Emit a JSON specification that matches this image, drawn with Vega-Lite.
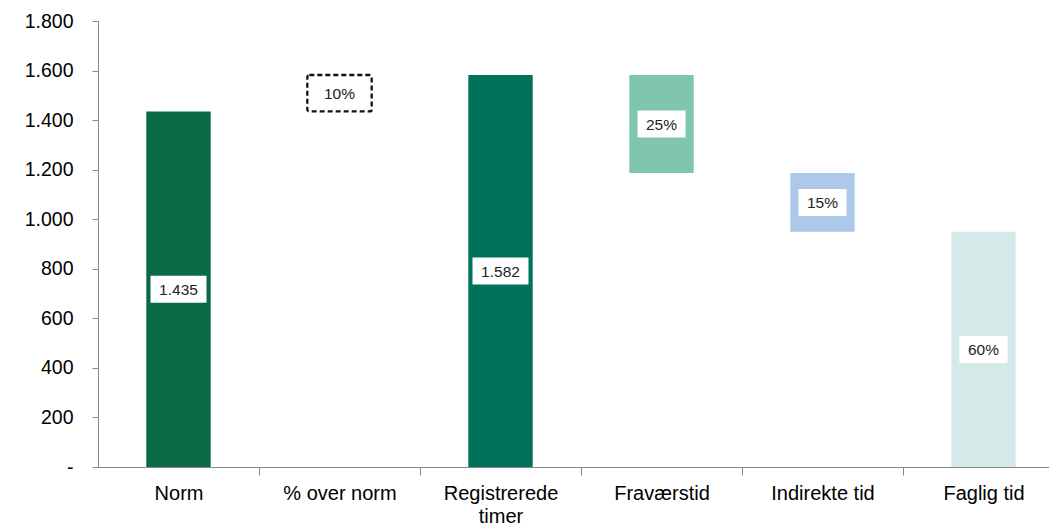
{
  "$schema": "https://vega.github.io/schema/vega-lite/v6.json",
  "autosize": {"type": "none"},
  "padding": {"left": 98, "top": 21, "right": 0, "bottom": 59},
  "width": 951,
  "height": 446,
  "background": "white",
  "config": {"view": {"stroke": null}, "font": "Liberation Sans"},
  "data": {"values": [
    {"cat": "Norm", "start": 0, "end": 1435, "label": "1.435"},
    {"cat": "% over norm", "start": 1435, "end": 1582, "label": "10%"},
    {"cat": "Registrerede timer", "start": 0, "end": 1582, "label": "1.582"},
    {"cat": "Fraværstid", "start": 1582, "end": 1186.5, "label": "25%"},
    {"cat": "Indirekte tid", "start": 1186.5, "end": 949.2, "label": "15%"},
    {"cat": "Faglig tid", "start": 949.2, "end": 0, "label": "60%"}
  ]},
  "transform": [{"calculate": "(datum.start + datum.end) / 2", "as": "mid"}],
  "encoding": {
    "x": {
      "field": "cat", "type": "nominal", "sort": null,
      "scale": {"domain": ["Norm", "% over norm", "Registrerede timer", "Fraværstid", "Indirekte tid", "Faglig tid"], "range": [0, 966], "paddingInner": 0.6, "paddingOuter": 0.3},
      "axis": {
        "title": null, "labelAngle": 0, "tickOffset": 80.5, "labelOffset": -80.5, "tickSize": 8,
        "domainColor": "#888888", "tickColor": "#888888", "labelFontSize": 20, "labelColor": "#000000",
        "labelPadding": 8, "labelLineHeight": 23, "labelBaseline": "top",
        "labelExpr": "datum.value == 'Registrerede timer' ? ['Registrerede', 'timer'] : datum.label"
      }
    }
  },
  "layer": [
    {
      "transform": [{"filter": "datum.cat != '% over norm'"}],
      "mark": {"type": "bar"},
      "encoding": {
        "y": {
          "field": "start", "type": "quantitative",
          "scale": {"domain": [0, 1800], "nice": false},
          "axis": {
            "title": null, "grid": false, "values": [0, 200, 400, 600, 800, 1000, 1200, 1400, 1600, 1800],
            "domainColor": "#888888", "tickColor": "#888888", "tickSize": 6, "labelPadding": 19,
            "labelFontSize": 19.5, "labelColor": "#000000",
            "labelExpr": "datum.value == 0 ? '-' : replace(format(datum.value, ','), ',', '.')"
          }
        },
        "y2": {"field": "end"},
        "color": {
          "field": "cat", "type": "nominal", "legend": null,
          "scale": {"domain": ["Norm", "Registrerede timer", "Fraværstid", "Indirekte tid", "Faglig tid"], "range": ["#096b45", "#00715a", "#7fc6ad", "#adc8e8", "#d4eae8"]}
        }
      }
    },
    {
      "transform": [{"filter": "datum.cat == '% over norm'"}],
      "mark": {"type": "bar", "fill": null, "fillOpacity": 0, "stroke": "#111111", "strokeWidth": 2.3, "strokeDash": [5, 3], "cornerRadius": 2},
      "encoding": {
        "y": {"field": "start", "type": "quantitative"},
        "y2": {"field": "end"}
      }
    },
    {
      "transform": [{"filter": "datum.cat != '% over norm'"}],
      "mark": {"type": "point", "filled": true, "fill": "white", "opacity": 1, "strokeWidth": 0},
      "encoding": {
        "y": {"field": "mid", "type": "quantitative"},
        "shape": {"condition": {"test": "indexof(datum.label, '%') >= 0", "value": "M-1,-0.5625L1,-0.5625L1,0.5625L-1,0.5625Z"}, "value": "M-1,-0.48L1,-0.48L1,0.48L-1,0.48Z"},
        "size": {"condition": {"test": "indexof(datum.label, '%') >= 0", "value": 2304}, "value": 3136}
      }
    },
    {
      "mark": {"type": "text", "fontSize": 15.5, "color": "#222222", "baseline": "middle", "dy": 1},
      "encoding": {
        "y": {"field": "mid", "type": "quantitative"},
        "text": {"field": "label"}
      }
    }
  ]
}
